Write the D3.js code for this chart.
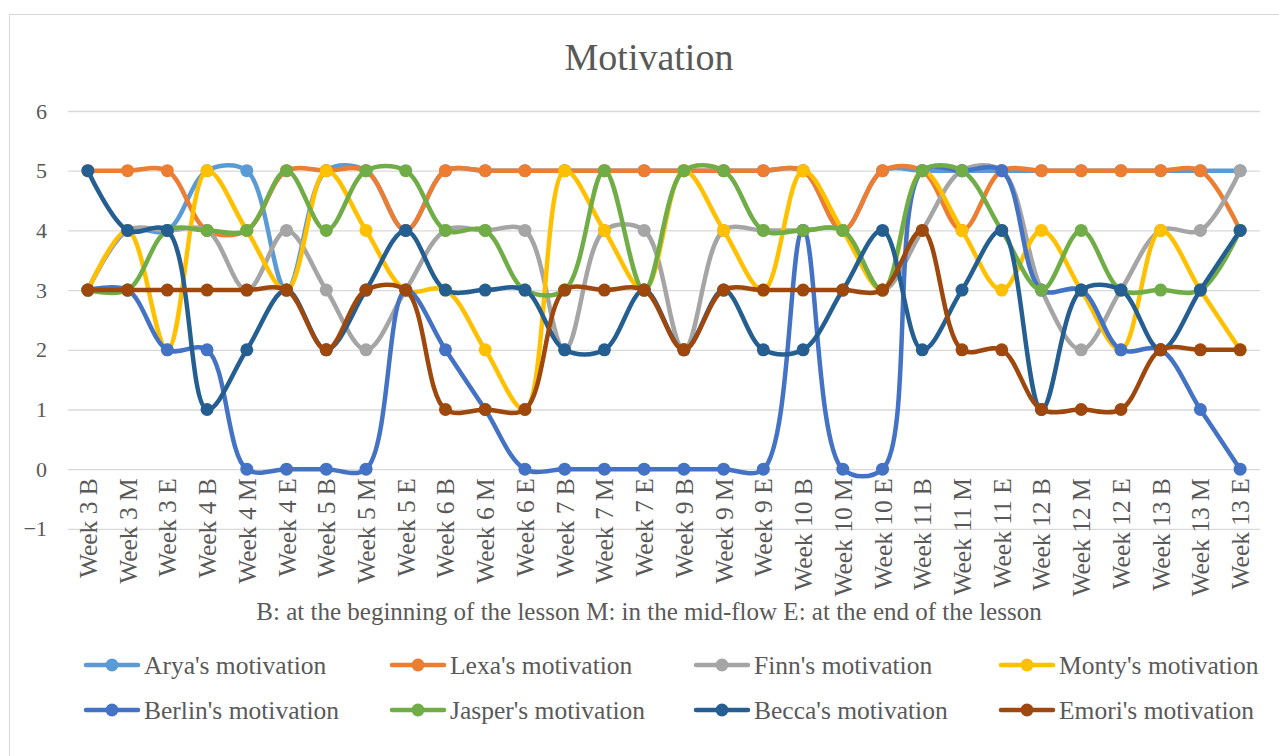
<!DOCTYPE html>
<html>
<head>
<meta charset="utf-8">
<script src="https://cdn.jsdelivr.net/npm/d3@7"></script>
<style>
  body { margin: 0; background: #fff; }
  svg text { font-family: "Liberation Serif", "DejaVu Serif", serif; fill: #595959; }
</style>
</head>
<body>
<svg id="chart" width="1279" height="756"></svg>
<script>
// categories (B: beginning, M: mid-flow, E: end of lesson)
const weeks = ["3", "4", "5", "6", "7", "9", "10", "11", "12", "13"];
const phases = ["B", "M", "E"];
const categories = weeks.flatMap(w => phases.map(p => `Week ${w} ${p}`));

const yTicks = [-1, 0, 1, 2, 3, 4, 5, 6];

// series values
const arya   = [3,4,4,5,5,3,5,5,4,5,5,5,5,5,5,5,5,5,5,4,5,5,5,5,5,5,5,5,5,5];
const lexa   = [5,5,5,4,4,5,5,5,4,5,5,5,5,5,5,5,5,5,5,4,5,5,4,5,5,5,5,5,5,4];
const finn   = [3,4,4,4,3,4,3,2,3,4,4,4,2,4,4,2,4,4,4,4,3,4,5,5,3,2,3,4,4,5];
const monty  = [3,4,2,5,4,3,5,4,3,3,2,1,5,4,3,5,4,3,5,4,3,5,4,3,4,3,2,4,3,2];
const berlin = [3,3,2,2,0,0,0,0,3,2,1,0,0,0,0,0,0,0,4,0,0,5,5,5,3,3,2,2,1,0];
const jasper = [3,3,4,4,4,5,4,5,5,4,4,3,3,5,3,5,5,4,4,4,3,5,5,4,3,4,3,3,3,4];
const becca  = [5,4,4,1,2,3,2,3,4,3,3,3,2,2,3,2,3,2,2,3,4,2,3,4,1,3,3,2,3,4];
const emori  = [3,3,3,3,3,3,2,3,3,1,1,1,3,3,3,2,3,3,3,3,3,4,2,2,1,1,1,2,2,2];

const seriesNames = ["Arya's motivation", "Lexa's motivation", "Finn's motivation", "Monty's motivation",
                     "Berlin's motivation", "Jasper's motivation", "Becca's motivation", "Emori's motivation"];
const seriesValues = [arya, lexa, finn, monty, berlin, jasper, becca, emori];
const seriesColors = ["#5B9BD5", "#ED7D31", "#A5A5A5", "#FFC000", "#4472C4", "#70AD47", "#255E91", "#9E480E"];

const series = seriesNames.map((name, i) => ({ name, values: seriesValues[i], color: seriesColors[i] }));

const svg = d3.select("#chart");

// chart area border (only top and left show in the frame)
svg.append("rect")
    .attr("x", 9.5).attr("y", 14.5)
    .attr("width", 1400).attr("height", 900)
    .attr("fill", "none")
    .attr("stroke", "#D9D9D9");

const x = d3.scalePoint()
    .domain(categories)
    .range([68, 1260])
    .padding(0.5);

const y = d3.scaleLinear()
    .domain([-1, 6])
    .range([528.9, 111]);

// title
svg.append("text")
    .attr("x", 649).attr("y", 70)
    .attr("text-anchor", "middle")
    .attr("font-size", "38px")
    .text("Motivation");

// gridlines + y labels
const yAxis = d3.axisLeft(y)
    .tickValues(yTicks)
    .tickSize(-(1260 - 68))
    .tickPadding(21)
    .tickFormat(d3.format("d"));
const yAxisGroup = svg.append("g")
    .attr("transform", "translate(68,0)")
    .call(yAxis);
yAxisGroup.select(".domain").remove();
yAxisGroup.selectAll("line").attr("stroke", "#D9D9D9").attr("stroke-width", 1.3);
yAxisGroup.selectAll("text")
    .attr("font-size", "22px")
    .attr("font-family", "Liberation Serif")
    .attr("fill", "#595959");

// category labels, rotated, hung under the zero line
const xAxis = d3.axisBottom(x).tickSize(0).tickPadding(0);
const xAxisGroup = svg.append("g")
    .attr("transform", `translate(0,${y(0)})`)
    .call(xAxis);
xAxisGroup.select(".domain").remove();
xAxisGroup.selectAll("text")
    .attr("font-size", "25.5px")
    .attr("font-family", "Liberation Serif")
    .attr("fill", "#595959")
    .attr("text-anchor", "end")
    .attr("dy", null)
    .attr("y", 0)
    .attr("transform", "translate(8.5,9) rotate(-90)");

// axis title
svg.append("text")
    .attr("x", 649).attr("y", 620)
    .attr("text-anchor", "middle")
    .attr("font-size", "25px")
    .text("B: at the beginning of the lesson M: in the mid-flow E: at the end of the lesson");

// lines
const line = d3.line()
    .x((d, i) => x(categories[i]))
    .y(d => y(d))
    .curve(d3.curveCatmullRom.alpha(0.5));

const plot = svg.append("g");
series.forEach(s => {
    const g = plot.append("g");
    g.append("path")
        .attr("d", line(s.values))
        .attr("fill", "none")
        .attr("stroke", s.color)
        .attr("stroke-width", 4.5)
        .attr("stroke-linecap", "round")
        .attr("stroke-linejoin", "round");
    g.selectAll("circle")
        .data(s.values)
        .join("circle")
        .attr("cx", (d, i) => x(categories[i]))
        .attr("cy", d => y(d))
        .attr("r", 6.5)
        .attr("fill", s.color);
});

// legend
const legendCols = [84, 390, 694, 999];
const legendRows = [665, 710];
const legend = svg.append("g");
series.forEach((s, i) => {
    const lx = legendCols[i % 4];
    const ly = legendRows[Math.floor(i / 4)];
    const item = legend.append("g").attr("transform", `translate(${lx},${ly})`);
    item.append("line")
        .attr("x1", 2).attr("x2", 54)
        .attr("stroke", s.color)
        .attr("stroke-width", 4.5)
        .attr("stroke-linecap", "round");
    item.append("circle")
        .attr("cx", 28).attr("r", 6.5)
        .attr("fill", s.color);
    item.append("text")
        .attr("x", 60).attr("y", 8.5)
        .attr("font-size", "25.5px")
        .text(s.name);
});
</script>
</body>
</html>
